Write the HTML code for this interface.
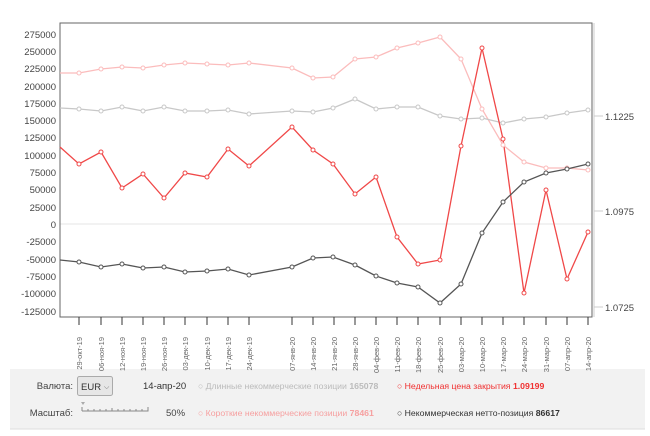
<!DOCTYPE html>
<html><head><meta charset="utf-8"><style>
body{margin:0;background:#fff;width:650px;height:436px;overflow:hidden;font-family:"Liberation Sans",sans-serif}
</style></head><body>
<svg width="650" height="436" xmlns="http://www.w3.org/2000/svg" style="position:absolute;left:0;top:0;font-family:'Liberation Sans',sans-serif">
<rect x="10" y="369" width="635" height="60" fill="#f2f2f2"/>
<line x1="10" y1="429" x2="645" y2="429" stroke="#ddd"/>
<line x1="60" y1="224" x2="592" y2="224" stroke="#eee" stroke-width="1.5"/>
<rect x="60" y="23" width="532" height="294" fill="none" stroke="#666" stroke-width="1"/>
<line x1="594" y1="23" x2="594" y2="317" stroke="#ccc"/>
<g font-size="9.5" fill="#444" text-anchor="end">
<text x="56" y="38">275000</text><text x="56" y="55">250000</text><text x="56" y="72">225000</text><text x="56" y="90">200000</text><text x="56" y="107">175000</text><text x="56" y="124">150000</text><text x="56" y="141">125000</text><text x="56" y="159">100000</text><text x="56" y="176">75000</text><text x="56" y="193">50000</text><text x="56" y="211">25000</text><text x="56" y="228">0</text><text x="56" y="245">-25000</text><text x="56" y="263">-50000</text><text x="56" y="280">-75000</text><text x="56" y="297">-100000</text><text x="56" y="315">-125000</text>
</g>
<g stroke="#ccc"><line x1="594" y1="116" x2="603" y2="116"/><line x1="594" y1="211" x2="603" y2="211"/><line x1="594" y1="307" x2="603" y2="307"/></g>
<g font-size="9.5" fill="#444"><text x="605" y="120">1.1225</text><text x="605" y="215">1.0975</text><text x="605" y="311">1.0725</text></g>
<g stroke="#333">
<line x1="79" y1="317" x2="79" y2="325"/><line x1="101" y1="317" x2="101" y2="325"/><line x1="122" y1="317" x2="122" y2="325"/><line x1="143" y1="317" x2="143" y2="325"/><line x1="164" y1="317" x2="164" y2="325"/><line x1="185" y1="317" x2="185" y2="325"/><line x1="207" y1="317" x2="207" y2="325"/><line x1="228" y1="317" x2="228" y2="325"/><line x1="249" y1="317" x2="249" y2="325"/><line x1="292" y1="317" x2="292" y2="325"/><line x1="313" y1="317" x2="313" y2="325"/><line x1="334" y1="317" x2="334" y2="325"/><line x1="355" y1="317" x2="355" y2="325"/><line x1="376" y1="317" x2="376" y2="325"/><line x1="397" y1="317" x2="397" y2="325"/><line x1="418" y1="317" x2="418" y2="325"/><line x1="440" y1="317" x2="440" y2="325"/><line x1="461" y1="317" x2="461" y2="325"/><line x1="482" y1="317" x2="482" y2="325"/><line x1="503" y1="317" x2="503" y2="325"/><line x1="524" y1="317" x2="524" y2="325"/><line x1="546" y1="317" x2="546" y2="325"/><line x1="567" y1="317" x2="567" y2="325"/><line x1="588" y1="317" x2="588" y2="325"/>
</g>
<g font-size="7.5" fill="#666" text-anchor="end">
<text transform="translate(82,337) rotate(-90)">29-окт-19</text><text transform="translate(104,337) rotate(-90)">06-ноя-19</text><text transform="translate(125,337) rotate(-90)">12-ноя-19</text><text transform="translate(146,337) rotate(-90)">19-ноя-19</text><text transform="translate(167,337) rotate(-90)">26-ноя-19</text><text transform="translate(188,337) rotate(-90)">03-дек-19</text><text transform="translate(210,337) rotate(-90)">10-дек-19</text><text transform="translate(231,337) rotate(-90)">17-дек-19</text><text transform="translate(252,337) rotate(-90)">24-дек-19</text><text transform="translate(295,337) rotate(-90)">07-янв-20</text><text transform="translate(316,337) rotate(-90)">14-янв-20</text><text transform="translate(337,337) rotate(-90)">21-янв-20</text><text transform="translate(358,337) rotate(-90)">28-янв-20</text><text transform="translate(379,337) rotate(-90)">04-фев-20</text><text transform="translate(400,337) rotate(-90)">11-фев-20</text><text transform="translate(421,337) rotate(-90)">18-фев-20</text><text transform="translate(443,337) rotate(-90)">25-фев-20</text><text transform="translate(464,337) rotate(-90)">03-мар-20</text><text transform="translate(485,337) rotate(-90)">10-мар-20</text><text transform="translate(506,337) rotate(-90)">17-мар-20</text><text transform="translate(527,337) rotate(-90)">24-мар-20</text><text transform="translate(549,337) rotate(-90)">31-мар-20</text><text transform="translate(570,337) rotate(-90)">07-апр-20</text><text transform="translate(591,337) rotate(-90)">14-апр-20</text>
</g>
<g fill="#fff" stroke-width="1.3">
<polyline fill="none" stroke="#fbbcbc" points="60,73 79,73 101,69 122,67 143,68 164,65 185,63 207,64 228,65 249,63 292,68 313,78 333,77 355,59 376,57 397,48 418,43 440,37 461,59 482,109 503,145 524,162 546,168 567,168 588,170"/>
<polyline fill="none" stroke="#c8c8c8" points="60,108 79,109 101,111 122,107 143,111 164,107 185,111 207,111 228,110 249,114 292,111 313,112 333,108 355,99 376,109 397,107 418,107 440,116 461,119 482,118 503,123 524,119 546,117 567,113 588,110"/>
<polyline fill="none" stroke="#f04848" points="60,147 79,164 101,152 122,188 143,174 164,198 185,173 207,177 228,149 249,166 292,127 313,150 333,164 355,194 376,177 397,237 418,264 440,260 461,146 482,48 503,139 524,293 546,190 567,279 588,232"/>
<polyline fill="none" stroke="#555" points="60,260 79,262 101,267 122,264 143,268 164,267 185,272 207,271 228,269 249,275 292,267 313,258 333,257 355,265 376,276 397,283 418,287 440,303 461,284 482,233 503,202 524,182 546,173 567,169 588,164"/>
</g>
<g fill="#fff" stroke-width="1">
<g stroke="#fbbcbc"><circle cx="79" cy="73" r="2"/><circle cx="101" cy="69" r="2"/><circle cx="122" cy="67" r="2"/><circle cx="143" cy="68" r="2"/><circle cx="164" cy="65" r="2"/><circle cx="185" cy="63" r="2"/><circle cx="207" cy="64" r="2"/><circle cx="228" cy="65" r="2"/><circle cx="249" cy="63" r="2"/><circle cx="292" cy="68" r="2"/><circle cx="313" cy="78" r="2"/><circle cx="333" cy="77" r="2"/><circle cx="355" cy="59" r="2"/><circle cx="376" cy="57" r="2"/><circle cx="397" cy="48" r="2"/><circle cx="418" cy="43" r="2"/><circle cx="440" cy="37" r="2"/><circle cx="461" cy="59" r="2"/><circle cx="482" cy="109" r="2"/><circle cx="503" cy="145" r="2"/><circle cx="524" cy="162" r="2"/><circle cx="546" cy="168" r="2"/><circle cx="567" cy="168" r="2"/><circle cx="588" cy="170" r="2"/></g>
<g stroke="#c8c8c8"><circle cx="79" cy="109" r="2"/><circle cx="101" cy="111" r="2"/><circle cx="122" cy="107" r="2"/><circle cx="143" cy="111" r="2"/><circle cx="164" cy="107" r="2"/><circle cx="185" cy="111" r="2"/><circle cx="207" cy="111" r="2"/><circle cx="228" cy="110" r="2"/><circle cx="249" cy="114" r="2"/><circle cx="292" cy="111" r="2"/><circle cx="313" cy="112" r="2"/><circle cx="333" cy="108" r="2"/><circle cx="355" cy="99" r="2"/><circle cx="376" cy="109" r="2"/><circle cx="397" cy="107" r="2"/><circle cx="418" cy="107" r="2"/><circle cx="440" cy="116" r="2"/><circle cx="461" cy="119" r="2"/><circle cx="482" cy="118" r="2"/><circle cx="503" cy="123" r="2"/><circle cx="524" cy="119" r="2"/><circle cx="546" cy="117" r="2"/><circle cx="567" cy="113" r="2"/><circle cx="588" cy="110" r="2"/></g>
<g stroke="#f04848"><circle cx="79" cy="164" r="2"/><circle cx="101" cy="152" r="2"/><circle cx="122" cy="188" r="2"/><circle cx="143" cy="174" r="2"/><circle cx="164" cy="198" r="2"/><circle cx="185" cy="173" r="2"/><circle cx="207" cy="177" r="2"/><circle cx="228" cy="149" r="2"/><circle cx="249" cy="166" r="2"/><circle cx="292" cy="127" r="2"/><circle cx="313" cy="150" r="2"/><circle cx="333" cy="164" r="2"/><circle cx="355" cy="194" r="2"/><circle cx="376" cy="177" r="2"/><circle cx="397" cy="237" r="2"/><circle cx="418" cy="264" r="2"/><circle cx="440" cy="260" r="2"/><circle cx="461" cy="146" r="2"/><circle cx="482" cy="48" r="2"/><circle cx="503" cy="139" r="2"/><circle cx="524" cy="293" r="2"/><circle cx="546" cy="190" r="2"/><circle cx="567" cy="279" r="2"/><circle cx="588" cy="232" r="2"/></g>
<g stroke="#555"><circle cx="79" cy="262" r="2"/><circle cx="101" cy="267" r="2"/><circle cx="122" cy="264" r="2"/><circle cx="143" cy="268" r="2"/><circle cx="164" cy="267" r="2"/><circle cx="185" cy="272" r="2"/><circle cx="207" cy="271" r="2"/><circle cx="228" cy="269" r="2"/><circle cx="249" cy="275" r="2"/><circle cx="292" cy="267" r="2"/><circle cx="313" cy="258" r="2"/><circle cx="333" cy="257" r="2"/><circle cx="355" cy="265" r="2"/><circle cx="376" cy="276" r="2"/><circle cx="397" cy="283" r="2"/><circle cx="418" cy="287" r="2"/><circle cx="440" cy="303" r="2"/><circle cx="461" cy="284" r="2"/><circle cx="482" cy="233" r="2"/><circle cx="503" cy="202" r="2"/><circle cx="524" cy="182" r="2"/><circle cx="546" cy="173" r="2"/><circle cx="567" cy="169" r="2"/><circle cx="588" cy="164" r="2"/></g>
</g>
<g font-size="9.5">
<text x="73" y="389" text-anchor="end" fill="#444">Валюта:</text>
<rect x="77.5" y="376.5" width="35" height="19" rx="2" fill="#e6e6e6" stroke="#aaa"/>
<text x="81" y="390" fill="#333">EUR</text><text x="104" y="389" font-size="7" fill="#666">⌵</text>
<text x="143" y="389" fill="#333">14-апр-20</text>
<text x="73" y="416" text-anchor="end" fill="#444">Масштаб:</text>
<path d="M82 411 v-4 M82 411 H148 v-4" stroke="#888" fill="none"/>
<g stroke="#888"><line x1="88" y1="411" x2="88" y2="409"/><line x1="94" y1="411" x2="94" y2="409"/><line x1="100" y1="411" x2="100" y2="409"/><line x1="106" y1="411" x2="106" y2="409"/><line x1="112" y1="411" x2="112" y2="408"/><line x1="118" y1="411" x2="118" y2="409"/><line x1="124" y1="411" x2="124" y2="409"/><line x1="130" y1="411" x2="130" y2="409"/><line x1="136" y1="411" x2="136" y2="409"/><line x1="142" y1="411" x2="142" y2="409"/></g>
<path d="M81 402 h4 l-2 3z" fill="#aaa"/>
<text x="166" y="416" fill="#444">50%</text>
</g>
<g font-size="8.7">
<text x="198" y="389" fill="#bbb">○ Длинные некоммерческие позиции <tspan font-weight="bold">165078</tspan></text>
<text x="397" y="389" fill="#f03030">○ Недельная цена закрытия <tspan font-weight="bold">1.09199</tspan></text>
<text x="198" y="416" fill="#f6a0a0">○ Короткие некоммерческие позиции <tspan font-weight="bold">78461</tspan></text>
<text x="397" y="416" fill="#333">○ Некоммерческая нетто-позиция <tspan font-weight="bold">86617</tspan></text>
</g>
</svg>
</body></html>
